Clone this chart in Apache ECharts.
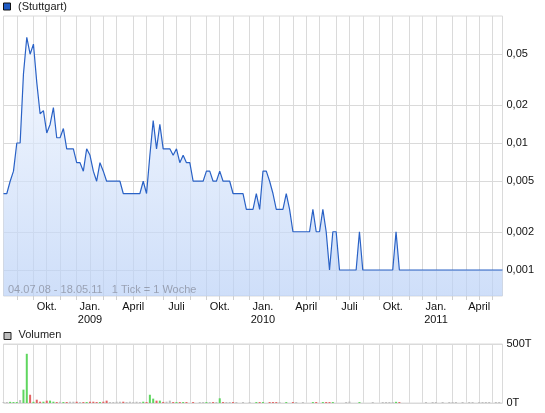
<!DOCTYPE html>
<html><head><meta charset="utf-8">
<script src="https://cdn.jsdelivr.net/npm/echarts@6/dist/echarts.min.js"></script>
<style>html,body{margin:0;padding:0;background:#fff}#c{width:545px;height:413px}</style>
</head><body><div id="c"></div>
<script>
// ---- data ----
const startDate = '2008-07-06';   // first weekly tick (Sunday)
const weekCount = 151;            // 1 Tick = 1 Woche
const prices = [
  0.004,0.004,0.005,0.006,0.01,0.01,0.035,0.068,0.05,0.06,
  0.03,0.017,0.018,0.012,0.014,0.019,0.011,0.011,0.013,0.009,
  0.009,0.009,0.007,0.007,0.006,0.009,0.008,0.006,0.005,0.007,
  0.006,0.005,0.005,0.005,0.005,0.005,0.004,0.004,0.004,0.004,
  0.004,0.004,0.005,0.004,0.008,0.015,0.009,0.014,0.009,0.009,
  0.009,0.008,0.009,0.007,0.008,0.007,0.007,0.005,0.005,0.005,
  0.005,0.006,0.006,0.005,0.005,0.006,0.005,0.005,0.005,0.004,
  0.004,0.004,0.004,0.003,0.003,0.003,0.004,0.003,0.006,0.006,
  0.005,0.004,0.003,0.003,0.003,0.004,0.003,0.002,0.002,0.002,
  0.002,0.002,0.002,0.003,0.002,0.002,0.003,0.002,0.001,0.002,
  0.002,0.001,0.001,0.001,0.001,0.001,0.001,0.002,0.001,0.001,
  0.001,0.001,0.001,0.001,0.001,0.001,0.001,0.001,0.002,0.001,
  0.001,0.001,0.001,0.001,0.001,0.001,0.001,0.001,0.001,0.001,
  0.001,0.001,0.001,0.001,0.001,0.001,0.001,0.001,0.001,0.001,
  0.001,0.001,0.001,0.001,0.001,0.001,0.001,0.001,0.001,0.001,
  0.001
];
const volumes = [
  8,8,10,8,8,25,113,417,70,10,
  28,11,11,20,20,11,8,11,8,8,
  11,11,11,8,8,8,11,11,8,8,
  11,20,8,8,11,11,11,8,11,8,
  11,8,11,8,70,37,20,20,9,11,
  20,8,8,8,8,8,0,8,0,8,
  8,8,8,8,8,40,8,8,8,8,
  8,0,8,0,8,0,8,8,8,0,
  8,8,8,8,0,8,0,8,8,0,
  8,0,0,8,8,0,8,8,8,8,
  0,0,0,8,12,0,0,8,0,0,
  0,8,0,0,8,8,8,8,10,8,
  0,0,0,0,0,0,0,8,0,8,
  8,0,8,0,8,8,8,0,8,0,
  8,8,0,8,8,8,8,0,8,8,
  0
];
const priceTicks = [0.001, 0.002, 0.005, 0.01, 0.02, 0.05];
const priceTickLabels = ['0,001', '0,002', '0,005', '0,01', '0,02', '0,05'];
const volumeTickLabels = ['0T', '500T'];
const monthLabels = {0: 'Jan.', 3: 'April', 6: 'Juli', 9: 'Okt.'};
const legendPrice = '(Stuttgart)';
const legendVolume = 'Volumen';
const periodNote = '04.07.08 - 18.05.11   1 Tick = 1 Woche';

// ---- derived ----
const categories = [];
const t0 = Date.parse(startDate + 'T00:00:00Z');
for (let i = 0; i < weekCount; i++) {
  categories.push(new Date(t0 + i * 7 * 86400000).toISOString().slice(0, 10));
}
const month = i => parseInt(categories[i].slice(5, 7), 10) - 1;
const isMonthStart = i => i > 0 && month(i) !== month(i - 1);
const isQuarterStart = i => isMonthStart(i) && monthLabels[month(i)] !== undefined;

const volData = volumes.map((v, i) => {
  let c = '#bdbdbd';
  if (i > 0 && prices[i] > prices[i - 1]) c = '#5fd65f';
  else if (i > 0 && prices[i] < prices[i - 1]) c = '#e26464';
  return {value: v, itemStyle: {color: c}};
});

const FONT = 'Liberation Sans, Arial, sans-serif';
const gridColor = '#dadada';

const chart = echarts.init(document.getElementById('c'), null, {renderer: 'canvas'});
chart.setOption({
  animation: false,
  textStyle: {fontFamily: FONT},
  grid: [
    {left: 3.5, width: 499, top: 16, height: 280, show: true, borderColor: gridColor, borderWidth: 1, containLabel: false},
    {left: 3.5, width: 499, top: 344, height: 59, show: true, borderColor: gridColor, borderWidth: 1, containLabel: false}
  ],
  xAxis: [
    {
      gridIndex: 0, type: 'category', data: categories, boundaryGap: false,
      axisLine: {show: false},
      axisTick: {show: true, interval: i => isMonthStart(i), length: 4, lineStyle: {color: '#cfcfcf'}},
      splitLine: {show: true, interval: i => isMonthStart(i), lineStyle: {color: gridColor, width: 1}},
      axisLabel: {
        show: true, interval: i => isQuarterStart(i), margin: 4,
        fontSize: 11, color: '#111', fontFamily: FONT, lineHeight: 13,
        formatter: (v, i) => {
          const m = parseInt(v.slice(5, 7), 10) - 1;
          const lab = monthLabels[m] || '';
          return m === 0 ? lab + '\n' + v.slice(0, 4) : lab;
        }
      }
    },
    {
      gridIndex: 1, type: 'category', data: categories, boundaryGap: false,
      axisLine: {show: false}, axisTick: {show: false}, axisLabel: {show: false},
      splitLine: {show: true, interval: i => isMonthStart(i), lineStyle: {color: gridColor, width: 1}}
    }
  ],
  yAxis: [
    {
      gridIndex: 0, type: 'log', logBase: 10, min: 0.000624, max: 0.1, position: 'right',
      axisLine: {show: false},
      axisTick: {show: false, customValues: priceTicks},
      splitLine: {show: true, lineStyle: {color: gridColor, width: 1}},
      axisLabel: {
        customValues: priceTicks, margin: 4, fontSize: 11, color: '#111', fontFamily: FONT,
        formatter: v => {
          let best = 0, bd = 1e9;
          priceTicks.forEach((t, k) => { const dd = Math.abs(Math.log10(v) - Math.log10(t)); if (dd < bd) { bd = dd; best = k; } });
          return priceTickLabels[best];
        }
      }
    },
    {
      gridIndex: 1, type: 'value', min: 0, max: 500, interval: 500, position: 'right',
      axisLine: {show: false}, axisTick: {show: false},
      splitLine: {show: true, lineStyle: {color: gridColor, width: 1}},
      axisLabel: {margin: 4, fontSize: 11, color: '#111', fontFamily: FONT,
        formatter: v => volumeTickLabels[v === 0 ? 0 : 1]}
    }
  ],
  series: [
    {
      name: legendPrice, type: 'line', xAxisIndex: 0, yAxisIndex: 0, data: prices,
      symbol: 'none', smooth: false,
      lineStyle: {color: '#2a62c6', width: 1.2},
      areaStyle: {
        origin: 'start',
        color: new echarts.graphic.LinearGradient(0, 0, 0, 1, [
          {offset: 0, color: '#f1f6fe'},
          {offset: 1, color: '#b9d0f6'}
        ])
      }
    },
    {
      name: legendVolume, type: 'bar', xAxisIndex: 1, yAxisIndex: 1, data: volData,
      barWidth: 2
    }
  ],
  graphic: [
    {type: 'rect', left: 3, top: 2.5, shape: {width: 7, height: 7},
     style: {fill: '#1f5bc4', stroke: '#111', lineWidth: 1}},
    {type: 'text', left: 18, top: 1, style: {text: legendPrice, font: '11px ' + FONT, fill: '#222'}},
    {type: 'rect', left: 3.5, top: 332, shape: {width: 7, height: 7},
     style: {fill: '#bdbdbd', stroke: '#222', lineWidth: 1}},
    {type: 'text', left: 18.5, top: 329.5, style: {text: legendVolume, font: '11px ' + FONT, fill: '#222'}},
    {type: 'text', left: 8, top: 284, z: 100,
     style: {text: periodNote, font: '11px ' + FONT, fill: 'rgba(100,100,110,0.5)'}}
  ]
});
</script>
</body></html>
